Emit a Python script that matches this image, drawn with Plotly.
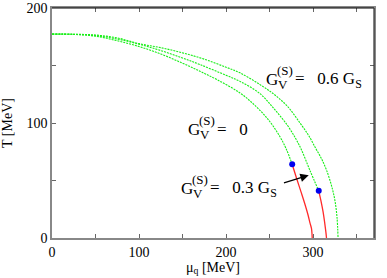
import plotly.graph_objects as go

# G_V = 0 (inner): crossover (green) and first-order (red) parts
mu_g0 = [0, 25, 50, 75, 100, 125, 150, 170, 190, 216, 235, 250, 262, 269.4, 276]
T_g0 = [177.3, 177, 175.5, 171.5, 166.5, 160, 152, 145, 137.5, 126.1, 114, 101.5, 88, 77, 64.1]
mu_r0 = [276, 281, 286.7, 291, 294.3, 296.5, 298.2, 298.8, 299]
T_r0 = [64.1, 52, 38.8, 28.5, 19.8, 13, 8.2, 3, 0]
# G_V = 0.3 G_S (middle)
mu_g3 = [0, 25, 50, 75, 100, 125, 150, 170, 200, 216, 239, 255, 270, 280, 286.7, 296.2, 306.5]
T_g3 = [177.3, 177.1, 176, 173, 168.5, 163, 156.5, 150.8, 141.5, 136.2, 125.5, 112.5, 98.5, 86.5, 76.6, 59.1, 41]
mu_r3 = [306.5, 309, 311.5, 313.2, 314.4, 315.1, 315.4]
T_r3 = [41, 32.5, 22.7, 14, 7, 2.5, 0]
# G_V = 0.6 G_S (outer)
mu_g6 = [0, 25, 50, 75, 100, 125, 150, 175, 200, 216, 239, 255, 270, 285, 295, 303, 310, 315.4, 321, 325, 327.5, 328.7]
T_g6 = [177.3, 177.2, 176.5, 174, 169, 165.5, 161, 155.5, 148.5, 143.6, 133.4, 125, 115, 100, 89, 78, 68.5, 59.1, 46, 33, 18, 0]
# critical end points
mu_cp = [276, 306.5]
T_cp = [64.1, 41]

xtickvals = [0, 50, 100, 150, 200, 250, 300, 350]
xticktext = ["0", "", "100", "", "200", "", "300", ""]
ytickvals = [0, 50, 100, 150, 200]
yticktext = ["0", "", "100", "", "200"]

GREEN = "#18ee18"
RED = "#ff2a2a"
FONT = "'Times New Roman', 'Liberation Serif', 'DejaVu Serif', serif"

fig = go.Figure()
for mu, T in [(mu_g0, T_g0), (mu_g3, T_g3), (mu_g6, T_g6)]:
    fig.add_trace(go.Scatter(x=mu, y=T, mode="lines", line=dict(color=GREEN, width=1.1, dash="2px,1px", shape="spline", smoothing=1), showlegend=False))
for mu, T in [(mu_r0, T_r0), (mu_r3, T_r3)]:
    fig.add_trace(go.Scatter(x=mu, y=T, mode="lines", line=dict(color=RED, width=1.3, shape="spline", smoothing=1), showlegend=False))
fig.add_trace(go.Scatter(x=mu_cp, y=T_cp, mode="markers", marker=dict(color="#0000ee", size=6), showlegend=False))


def label(x, y, rhs):
    fig.add_annotation(x=x, y=y, xref="x", yref="y", text="G", showarrow=False, xanchor="left", yanchor="middle", font=dict(family=FONT, size=17, color="black"))
    fig.add_annotation(x=x, y=y, xref="x", yref="y", text="V", showarrow=False, xanchor="left", yanchor="middle", xshift=12, yshift=-5, font=dict(family=FONT, size=13, color="black"))
    fig.add_annotation(x=x, y=y, xref="x", yref="y", text="(S)", showarrow=False, xanchor="left", yanchor="middle", xshift=11, yshift=9, font=dict(family=FONT, size=13, color="black"))
    fig.add_annotation(x=x, y=y, xref="x", yref="y", text=rhs, showarrow=False, xanchor="left", yanchor="middle", xshift=29, font=dict(family=FONT, size=17, color="black"))

label(243.5, 137.5, "=&nbsp;&nbsp;&nbsp;0.6 G<sub>S</sub>")
label(154, 94.5, "=&nbsp;&nbsp;&nbsp;0")
label(146, 43, "=&nbsp;&nbsp;&nbsp;0.3 G<sub>S</sub>")

fig.add_annotation(x=295, y=54.6, ax=264.8, ay=47.5, xref="x", yref="y", axref="x", ayref="y", text="", showarrow=True, arrowhead=2, arrowsize=1.4, arrowwidth=1.2, arrowcolor="black")

fig.update_xaxes(range=[0, 370], tickvals=xtickvals, ticktext=xticktext, ticks="inside", ticklen=4, tickcolor="#666", showline=True, linecolor="#888", linewidth=1.5, mirror="ticks", showgrid=False, zeroline=False, automargin=False, tickfont=dict(family=FONT, size=14, color="black"), title=dict(text="μ<sub>q</sub> [MeV]", font=dict(family=FONT, size=14, color="black"), standoff=3))
fig.update_yaxes(range=[0, 200], tickvals=ytickvals, ticktext=yticktext, ticks="inside", ticklen=4, tickcolor="#666", showline=True, linecolor="#888", linewidth=1.5, mirror="ticks", showgrid=False, zeroline=False, automargin=False, tickfont=dict(family=FONT, size=14, color="black"), title=dict(text="T [MeV]", font=dict(family=FONT, size=14, color="black"), standoff=12))

fig.add_shape(type="line", xref="paper", yref="paper", x0=0, x1=1, y0=1, y1=1, line=dict(color="black", width=1.2))
fig.add_shape(type="line", xref="paper", yref="paper", x0=1, x1=1, y0=0, y1=1, line=dict(color="#333", width=1.2))

fig.update_layout(width=387, height=278, margin=dict(l=52, r=13, t=8, b=40), plot_bgcolor="white", paper_bgcolor="white", font=dict(family=FONT))
fig.write_html("out.html", config={"displayModeBar": False}, post_script="document.body.style.margin='0';")
